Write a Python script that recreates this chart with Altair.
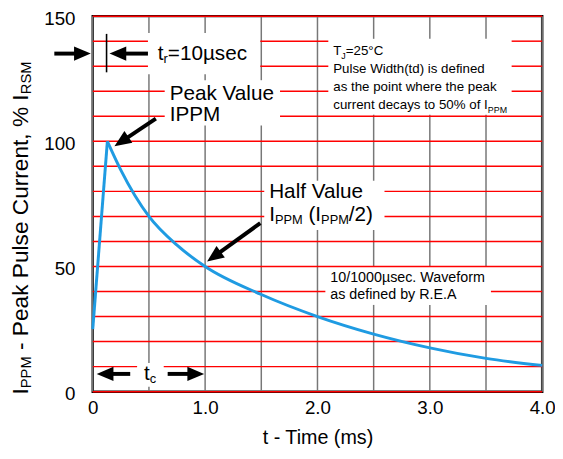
import math
import altair as alt
import pandas as pd

# ---------------- data ----------------
rise_t = [0.0, 0.13]
rise_v = [25, 100]
decay_t = [0.13, 0.25, 0.5, 0.75, 1.0, 1.5, 2.0, 2.5, 3.0, 3.5, 4.0]
decay_v = [100, 88.5, 70, 58.5, 50, 38.8, 30, 23, 17.5, 13.3, 10.5]

x_ticks = [0, 0.5, 1.0, 1.5, 2.0, 2.5, 3.0, 3.5, 4.0]
y_ticks = list(range(0, 151, 10))

# ---------------- layout helpers (annotation placement) ----------------
PX0, PY0, PW, PH = 94, 13, 456, 381
XMAX, YMAX = 4.0, 150.0
FONT = "Liberation Sans"


def dx(px):
    return (px - PX0) / PW * XMAX


def dy(py):
    return (PY0 + PH - py) / PH * YMAX


def px_of(t):
    return PX0 + t / XMAX * PW


def py_of(v):
    return PY0 + PH - v / YMAX * PH


CW = {' ': .278, '-': .333, 'P': .667, 'e': .556, 'a': .556, 'k': .5, 'u': .556,
      'l': .222, 's': .5, 'C': .722, 'r': .333, 'n': .556, 't': .278, ',': .278,
      '%': .889, 'I': .278, 'R': .722, 'S': .667, 'M': .833, '(': .333, ')': .333,
      '/': .278, '=': .584, 'µ': .576, 'c': .5, 'T': .611, 'J': .5, '°': .4,
      'V': .667, 'H': .722, 'f': .278, 'W': .944, 'v': .5, 'o': .556, 'm': .833,
      'd': .556, 'i': .222, 'h': .556, 'y': .5, 'b': .556, 'E': .667, 'A': .667,
      '.': .278, 'w': .722, 'p': .556}


def tw(s, size):
    return sum(CW.get(ch, .556) for ch in s) * size


texts = []


def add_run(pieces, px, py):
    x = px
    for s, size, sub in pieces:
        lead = len(s) - len(s.lstrip(" "))
        x += tw(" " * lead, size)
        s = s.lstrip(" ")
        texts.append({"t": dx(x), "v": dy(py + (5 if sub else 0)), "text": s, "size": size})
        x += tw(s, size)


BIG, SUB = 21, 13
add_run([("t", BIG, False), ("r", SUB, True), ("=10µsec", BIG, False)], 160, 52)
add_run([("Peak Value", BIG, False)], 172, 92)
add_run([("IPPM", BIG, False)], 172, 113)
add_run([("Half Value", BIG, False)], 273, 192)
add_run([("I", BIG, False), ("PPM", SUB, True), (" (I", BIG, False), ("PPM", SUB, True),
         ("/2)", BIG, False)], 273, 215)
add_run([("t", BIG, False), ("c", SUB, True)], 146, 376)

SM, SMS = 13.5, 9
add_run([("T", SM, False), ("J", SMS, True), ("=25°C", SM, False)], 338, 48)
add_run([("Pulse Width(td) is defined", SM, False)], 338, 67)
add_run([("as the point where the peak", SM, False)], 338, 85)
add_run([("current decays to 50% of I", SM, False), ("PPM", SMS, True)], 338, 103)
add_run([("10/1000µsec. Waveform", 14.5, False)], 335, 279)
add_run([("as defined by R.E.A", 14.5, False)], 335, 296)

ytitle = []
py = 397
for s, size, sub in [("I", 23, False), ("PPM", 15, True),
                     (" - Peak Pulse Current, % I", 23, False), ("RSM", 15, True)]:
    lead = len(s) - len(s.lstrip(" "))
    py -= tw(" " * lead, size)
    s = s.lstrip(" ")
    ytitle.append({"t": dx(26 if sub else 21), "v": dy(py), "text": s, "size": size})
    py -= tw(s, size)

boxes = [(150, 30, 264, 72), (167, 78, 284, 124), (333, 36, 519, 113),
         (268, 180, 390, 230), (330, 267, 498, 306), (139, 365, 166, 389)]


def cut(lo, hi, gaps):
    segs = [(lo, hi)]
    for g0, g1 in gaps:
        nxt = []
        for a, b in segs:
            if g1 <= a or g0 >= b:
                nxt.append((a, b))
            else:
                if g0 > a:
                    nxt.append((a, g0))
                if g1 < b:
                    nxt.append((g1, b))
        segs = nxt
    return segs


vrows, hrows = [], []
for t in x_ticks:
    xp = px_of(t)
    gaps = [(b, d) for a, b, c, d in boxes if a < xp < c]
    for y0, y1 in cut(PY0, PY0 + PH, gaps):
        vrows.append({"t": t, "v": dy(y1), "t2": t, "v2": dy(y0)})
for v in y_ticks:
    yp = py_of(v)
    gaps = [(a, c) for a, b, c, d in boxes if b < yp < d]
    for x0, x1 in cut(PX0, PX0 + PW, gaps):
        hrows.append({"t": dx(x0), "v": v, "t2": dx(x1), "v2": v})
vgrid_df = pd.DataFrame(vrows)
hgrid_df = pd.DataFrame(hrows)

arrows = [(55, 51, 92, 51), (150, 51, 111, 51), (158, 117, 116, 145),
          (264, 223, 210, 262), (132, 376, 98, 376), (170, 376, 207, 376)]
HEAD = 17
shafts, heads = [], []
for x1, y1, x2, y2 in arrows:
    L = math.hypot(x2 - x1, y2 - y1)
    ux, uy = (x2 - x1) / L, (y2 - y1) / L
    cx, cy = x2 - ux * HEAD / 2, y2 - uy * HEAD / 2
    shafts.append({"t": dx(x1), "v": dy(y1), "t2": dx(cx), "v2": dy(cy)})
    heads.append({"t": dx(cx), "v": dy(cy), "ang": math.degrees(math.atan2(uy, ux)) % 360})
shaft_df = pd.DataFrame(shafts)
head_df = pd.DataFrame(heads)
marker_df = pd.DataFrame([{"t": dx(108), "v": dy(31), "t2": dx(108), "v2": dy(70)}])

xs = alt.Scale(domain=[0, XMAX], nice=False, zero=False)
ys = alt.Scale(domain=[0, YMAX], nice=False, zero=False)
xaxis = alt.Axis(values=x_ticks, grid=False,
                 ticks=False, domain=False, labelFlush=False, labelOverlap=False,
                 labelExpr="datum.value % 1 != 0 ? '' : (datum.value == 0 ? '0' : format(datum.value, '.1f'))",
                 labelFont=FONT, labelFontSize=19, labelColor="black", labelPadding=7,
                 title="t - Time (ms)", titleFont=FONT, titleFontSize=20,
                 titleFontWeight="normal", titleColor="black", titlePadding=11)
yaxis = alt.Axis(values=y_ticks, grid=False,
                 ticks=False, domain=False, labelOverlap=False, labelOffset=2,
                 labelExpr="datum.value % 50 != 0 ? '' : datum.value",
                 labelFont=FONT, labelFontSize=19, labelColor="black", labelPadding=18,
                 title=None)

X = alt.X("t:Q", scale=xs, axis=xaxis)
Y = alt.Y("v:Q", scale=ys, axis=yaxis)

vgrid = alt.Chart(vgrid_df).mark_rule(color="#777777", strokeWidth=1.5).encode(
    x=X, y=Y, x2="t2:Q", y2="v2:Q")
hgrid = alt.Chart(hgrid_df).mark_rule(color="red", strokeWidth=1.5).encode(
    x=X, y=Y, x2="t2:Q", y2="v2:Q")

rise = alt.Chart(pd.DataFrame({"t": rise_t, "v": rise_v})).mark_line(
    color="#1f9be2", strokeWidth=3).encode(x=X, y=Y)
decay = alt.Chart(pd.DataFrame({"t": decay_t, "v": decay_v})).mark_line(
    color="#1f9be2", strokeWidth=3, interpolate="monotone").encode(x=X, y=Y)

shaft_layer = alt.Chart(shaft_df).mark_rule(color="black", strokeWidth=4).encode(
    x=X, y=Y, x2="t2:Q", y2="v2:Q")
marker_layer = alt.Chart(marker_df).mark_rule(color="black", strokeWidth=1.6).encode(
    x=X, y=Y, x2="t2:Q", y2="v2:Q")

heads_layer = alt.Chart(head_df).mark_point(
    shape="M1,0L-1,-0.85L-1,0.85Z", filled=True, color="black", opacity=1,
    size=HEAD * HEAD).encode(
    x=X, y=Y, angle=alt.Angle("ang:Q", scale=None))

txt = alt.Chart(pd.DataFrame(texts)).mark_text(
    align="left", baseline="middle", font=FONT, color="black").encode(
    x=X, y=Y, text="text:N", size=alt.Size("size:Q", scale=None, legend=None))

ytxt = alt.Chart(pd.DataFrame(ytitle)).mark_text(
    align="left", baseline="middle", font=FONT, color="black", angle=270).encode(
    x=X, y=Y, text="text:N", size=alt.Size("size:Q", scale=None, legend=None))

chart = alt.layer(vgrid, hgrid, rise, decay, shaft_layer, marker_layer, heads_layer, txt, ytxt).properties(
    width=PW, height=PH,
    padding={"left": 86, "top": 5, "right": 13, "bottom": 60},
    autosize=alt.AutoSizeParams(type="none"),
    background="white",
).configure_view(stroke="black", strokeWidth=2.5)

chart.save("out.html", embed_options={"renderer": "svg", "actions": False})
